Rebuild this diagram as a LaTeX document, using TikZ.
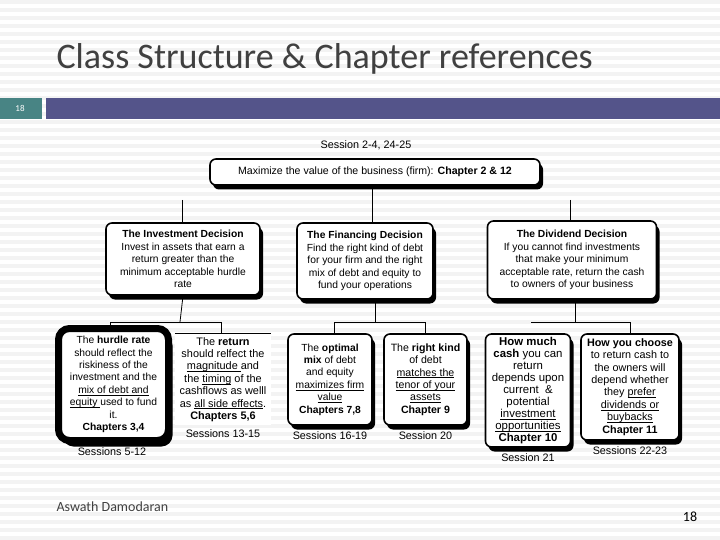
\documentclass[tikz,border=0pt]{standalone}
\usepackage{fontspec}
\setmainfont{Liberation Sans}
\newfontfamily\slidefont{Carlito}
\usetikzlibrary{shadows,positioning}

\definecolor{stripegray}{RGB}{243,243,243}
\definecolor{titlegray}{RGB}{64,64,64}
\definecolor{slideteal}{RGB}{72,132,132}
\definecolor{slidepurple}{RGB}{84,84,138}

\newcommand\ulin[1]{\setbox0\hbox{#1}\leavevmode\rlap{\rule[-1.8pt]{\wd0}{0.5pt}}\box0{}}

\tikzset{
  boxfont/.style={font=\fontsize{#1}{12.4}\selectfont},
  boxfont/.default=10.3,
  mainbox/.style={boxfont, draw, line width=1.6pt, rounded corners=6pt, fill=white,
    align=center, inner sep=1pt,
    drop shadow={shadow xshift=3pt, shadow yshift=-4.5pt, opacity=1, fill=black}},
  hurdlebox/.style={mainbox, line width=7pt, rounded corners=11pt,
    drop shadow={shadow xshift=4pt, shadow yshift=-6pt, opacity=1, fill=black}},
  plainbox/.style={boxfont, fill=white, align=center, inner sep=1pt},
  sessionlabel/.style={boxfont=10.8, inner sep=1pt},
  link/.style={draw, line width=0.8pt}
}

\begin{document}
\begin{tikzpicture}[x=1pt,y=-1pt]
  \useasboundingbox (0,0) rectangle (720,540);
  % slide background
  \fill[white] (0,0) rectangle (720,540);
  \foreach \y in {0,8,...,536}
    \fill[stripegray] (0,\y) rectangle (720,\y+4);

  \node[anchor=west, text=titlegray, font=\slidefont\fontsize{36}{40}\selectfont] (title) at (53,59)
    {Class Structure \& Chapter references};
  \fill[slideteal] (0,98) rectangle (42,119);
  \fill[slidepurple] (46,98) rectangle (720,119);
  \node[text=white, font=\slidefont\fontsize{9}{10}\selectfont] (slideno) at (20,108.5) {18};

  % top level
  \node[sessionlabel] (toplabel) at (366,145) {Session 2-4, 24-25};
  \node[mainbox, boxfont=10.6, minimum width=330pt, minimum height=26pt] (goal) at (375,172)
    {Maximize the value of the business (firm): \textbf{Chapter 2 \& 12}};

  % decisions
  \node[mainbox, minimum width=154pt, minimum height=72pt] (inv) at (183,259)
    {\textbf{The Investment Decision}\\Invest in assets that earn a\\return greater than the\\minimum acceptable hurdle\\rate};
  \node[mainbox, minimum width=136pt, minimum height=76pt] (fin) at (365,261)
    {\textbf{The Financing Decision}\\Find the right kind of debt\\for your firm and the right\\mix of debt and equity to\\fund your operations};
  \node[mainbox, minimum width=169pt, minimum height=78pt] (div) at (572,260)
    {\textbf{The Dividend Decision}\\If you cannot find investments\\that make your minimum\\acceptable rate, return the cash\\to owners of your business};

  \coordinate (goalstem) at (372,0);
  \coordinate (invtop) at (182,200);
  \coordinate (divtop) at (570,200);
  \draw[link] (goalstem |- goal.south) -- (goalstem |- fin.north);
  \draw[link] (invtop) -- (inv.north -| invtop);
  \draw[link] (divtop) -- (div.north -| divtop);

  % investment principles
  \node[sessionlabel] (hurdlesess) at (112,452) {Sessions 5-12};
  \node[hurdlebox, minimum width=110pt, minimum height=112pt] (hurdle) at (113.5,384.5)
    {The \textbf{hurdle rate}\\should reflect the\\riskiness of the\\investment and the\\\ulin{mix of debt and}\\\ulin{equity }used to fund\\it.\\\textbf{Chapters 3,4}};
  \node[plainbox, boxfont=10.9, minimum width=96pt, minimum height=91pt] (ret) at (223,379.5)
    {The \textbf{return}\\should relfect the\\\ulin{magnitude }and\\the \ulin{timing} of the\\cashflows as welll\\as \ulin{all side effects}.\\\textbf{Chapters 5,6}};
  \draw[line width=0.8pt] (ret.north west) -- (ret.north east);
  \node[sessionlabel, below=3pt of ret] (retsess) {Sessions 13-15};

  \coordinate (invbar) at (180,322);
  \coordinate (hurdlestem) at (110,322);
  \coordinate (retstem) at (221,322);
  \draw[link] (inv.south) -- (invbar);
  \draw[link] (hurdle.north -| hurdlestem) -- (hurdlestem) -- (retstem) -- (ret.north -| retstem);

  % financing principles
  \node[mainbox, minimum width=84pt, minimum height=91pt] (mix) at (330,379.5)
    {The \textbf{optimal}\\\textbf{mix} of debt\\and equity\\\ulin{maximizes firm}\\\ulin{value}\\\textbf{Chapters 7,8}};
  \node[mainbox, boxfont=10.6, minimum width=83pt, minimum height=91pt] (kind) at (425.5,379.5)
    {The \textbf{right kind}\\of debt\\\ulin{matches the}\\\ulin{tenor of your}\\\ulin{assets}\\\textbf{Chapter 9}};
  \node[sessionlabel, below=5pt of mix] (mixsess) {Sessions 16-19};
  \node[sessionlabel, below=5pt of kind] (kindsess) {Session 20};

  \coordinate (finstem) at (375,322);
  \coordinate (mixstem) at (334,322);
  \coordinate (kindstem) at (425,322);
  \draw[link] (fin.south -| finstem) -- (finstem);
  \draw[link] (mix.north -| mixstem) -- (mixstem) -- (kindstem) -- (kind.north -| kindstem);

  % dividend principles
  \node[mainbox, font=\fontsize{11.4}{12.1}\selectfont, minimum width=85pt, minimum height=113pt] (cash) at (528,390.5)
    {\textbf{How much}\\\textbf{cash} you can\\return\\depends upon\\current \ \&\\potential\\\ulin{investment}\\\ulin{opportunities}\\\textbf{Chapter 10}};
  \node[mainbox, boxfont=10.8, minimum width=98pt, minimum height=106pt] (choose) at (630,387)
    {\textbf{How you choose}\\to return cash to\\the owners will\\depend whether\\they \ulin{prefer}\\\ulin{dividends or}\\\ulin{buybacks}\\\textbf{Chapter 11}};
  \node[sessionlabel, below=5pt of cash] (cashsess) {Session 21};
  \node[sessionlabel, below=5pt of choose] (choosesess) {Sessions 22-23};

  \coordinate (divstem) at (575,322);
  \coordinate (divbar) at (531,322);
  \coordinate (choosestem) at (630,322);
  \draw[link] (div.south -| divstem) -- (divstem);
  \draw[link] (divbar) -- (choosestem) -- (choose.north -| choosestem);

  % footer
  \node[anchor=west, text=titlegray, font=\slidefont\fontsize{14}{16}\selectfont] (author) at (53,507) {Aswath Damodaran};
  \node[font=\slidefont\fontsize{14}{16}\selectfont] (pageno) at (690,517) {18};
\end{tikzpicture}
\end{document}
